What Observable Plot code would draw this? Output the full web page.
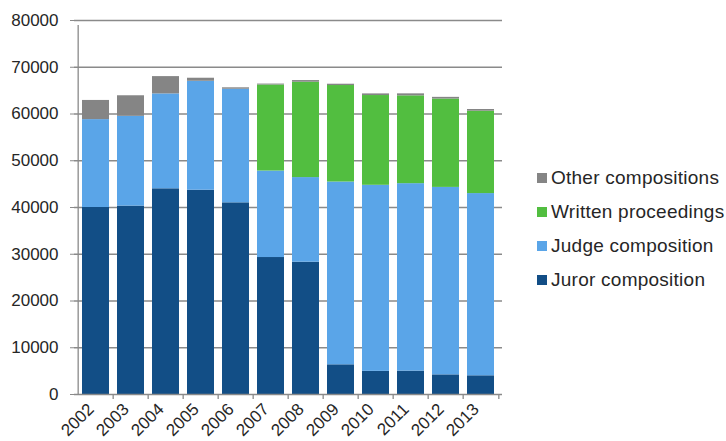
<!DOCTYPE html>
<html>
<head>
<meta charset="utf-8">
<script src="https://cdn.jsdelivr.net/npm/d3@7"></script>
<script src="https://cdn.jsdelivr.net/npm/@observablehq/plot@0.6"></script>
<style>
  html, body { margin: 0; padding: 0; background: #fff; }
  #wrap { position: relative; width: 726px; height: 441px; font-family: "Liberation Sans", Arial, sans-serif; }
  #legend { position: absolute; left: 537px; top: 161px; }
  .row { height: 34px; display: flex; align-items: center; font-size: 19px; letter-spacing: 0.25px; color: #262626; white-space: nowrap; }
  .sw { width: 10px; height: 10px; margin-right: 4px; flex: none; }
</style>
</head>
<body>
<div id="wrap"></div>
<script>
const years = [2002, 2003, 2004, 2005, 2006, 2007, 2008, 2009, 2010, 2011, 2012, 2013];
const juror   = [40000, 40300, 44000, 43700, 41000, 29300, 28300, 6350, 4950, 5000, 4200, 4000];
const judge   = [18800, 19200, 20300, 23300, 24300, 18500, 18100, 39100, 39800, 40100, 40100, 38980];
const written = [0, 0, 0, 0, 0, 18400, 20400, 20640, 19200, 18780, 18900, 17620];
const other   = [4100, 4400, 3700, 650, 300, 200, 350, 280, 350, 430, 360, 360];
const seriesNames = ["Juror composition", "Judge composition", "Written proceedings", "Other compositions"];
const seriesColors = ["#124E86", "#5AA5E8", "#52BE40", "#858585"];
const yTicks = [0, 10000, 20000, 30000, 40000, 50000, 60000, 70000, 80000];

const seriesValues = [juror, judge, written, other];
const data = [];
years.forEach((yr, i) => {
  seriesNames.forEach((s, k) => data.push({year: String(yr), series: s, value: seriesValues[k][i]}));
});

const W = 726, H = 441, mL = 74, mR = 224, mT = 20, mB = 47;
const step = (W - mL - mR) / years.length;
const yearStr = years.map(String);
const axisColor = "#8a8a8a";
const textColor = "#262626";

const chart = Plot.plot({
  width: W, height: H,
  marginLeft: mL, marginRight: mR, marginTop: mT, marginBottom: mB,
  style: {fontFamily: "'Liberation Sans', Arial, sans-serif", fontSize: "17px", color: textColor, background: "#fff"},
  x: {type: "band", domain: yearStr, paddingInner: 0.22, paddingOuter: 0.11, label: null, axis: null},
  y: {domain: [0, 80000], label: null, axis: null},
  color: {domain: seriesNames, range: seriesColors},
  marks: [
    Plot.ruleY(yTicks.slice(1), {stroke: axisColor, strokeWidth: 1.3}),
    Plot.barY(data, {x: "year", y: "value", fill: "series"}),
    Plot.ruleY([0], {stroke: axisColor, strokeWidth: 1.3}),
    Plot.ruleX([yearStr[0]], {x: d => d, y1: 0, y2: 80000, dx: -step / 2, insetBottom: -5, stroke: axisColor, strokeWidth: 1.3}),
    Plot.ruleX(yearStr.slice(1), {x: d => d, y1: 0, y2: 0, dx: -step / 2, insetBottom: -5, stroke: axisColor, strokeWidth: 1.3}),
    Plot.ruleX([yearStr[yearStr.length - 1]], {x: d => d, y1: 0, y2: 0, dx: step / 2, insetBottom: -5, stroke: axisColor, strokeWidth: 1.3}),
    Plot.axisY({ticks: yTicks, tickSize: 4, tickPadding: 12, tickFormat: d3.format("d"), stroke: axisColor, fill: textColor, fontSize: 17, label: null}),
    Plot.axisX({tickSize: 0, tickPadding: 12, dx: -5, tickRotate: -45, fill: textColor, fontSize: 17, label: null})
  ]
});

const wrap = document.getElementById("wrap");
wrap.appendChild(chart);

const legend = document.createElement("div");
legend.id = "legend";
const order = [3, 2, 1, 0];
order.forEach(k => {
  const row = document.createElement("div");
  row.className = "row";
  const sw = document.createElement("span");
  sw.className = "sw";
  sw.style.background = seriesColors[k];
  const tx = document.createElement("span");
  tx.textContent = seriesNames[k];
  row.appendChild(sw);
  row.appendChild(tx);
  legend.appendChild(row);
});
wrap.appendChild(legend);
</script>
</body>
</html>
